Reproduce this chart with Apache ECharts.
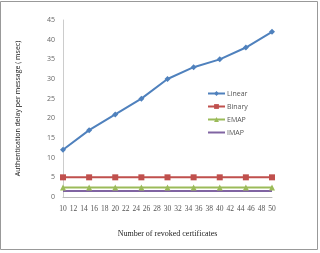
<!DOCTYPE html>
<html>
<head>
<meta charset="utf-8">
<script src="https://cdn.jsdelivr.net/npm/echarts@6/dist/echarts.min.js"></script>
<style>
  html, body { margin: 0; padding: 0; background: #fff; }
  #chartDiv { width: 320px; height: 253px; }
</style>
</head>
<body>
<div id="chartDiv"></div>
<script>
// revoked certificates (x) and delay per message in msec
const certs = [10, 15, 20, 25, 30, 35, 40, 45, 50];
const linear = [12, 17, 21, 25, 30, 33, 35, 38, 42];
const binary = [5, 5, 5, 5, 5, 5, 5, 5, 5];
const emap = [2.4, 2.4, 2.4, 2.4, 2.4, 2.4, 2.4, 2.4, 2.4];
const imap = [1.5, 1.5, 1.5, 1.5, 1.5, 1.5, 1.5, 1.5, 1.5];

const pairs = (vals) => certs.map((c, i) => [c, vals[i]]);

const chart = echarts.init(document.getElementById('chartDiv'));

const options = {
  animation: false,
  graphic: [
    {
      type: 'rect',
      shape: { x: 0.5, y: 1.5, width: 317, height: 248 },
      style: { fill: 'none', stroke: '#999', lineWidth: 1 }
    }
  ],
  grid: { left: 63, right: 48, top: 20, bottom: 56 },
  legend: {
    orient: 'vertical',
    left: 202,
    top: 85,
    itemWidth: 17,
    itemHeight: 6,
    itemGap: 6,
    textStyle: { fontFamily: 'Open Sans', fontSize: 7, color: '#555', padding: [0, 0, 0, -3] },
    data: ['Linear', 'Binary', 'EMAP', { name: 'IMAP', itemStyle: { opacity: 0 } }]
  },
  xAxis: {
    type: 'value',
    min: 10,
    max: 50,
    interval: 2,
    name: 'Number of revoked certificates',
    nameLocation: 'middle',
    nameGap: 33,
    nameTextStyle: { fontFamily: 'Liberation Serif', fontSize: 8, color: '#222' },
    axisLine: { lineStyle: { color: '#bbb' } },
    axisTick: { show: false },
    splitLine: { show: false },
    axisLabel: { margin: 8, fontFamily: 'Liberation Serif', fontSize: 7.5, color: '#555' }
  },
  yAxis: {
    type: 'value',
    min: 0,
    max: 45,
    interval: 5,
    name: 'Authentication delay per message ( msec)',
    nameLocation: 'middle',
    nameGap: 42,
    nameTextStyle: { fontFamily: 'Open Sans', fontSize: 7, color: '#111' },
    axisLine: { show: true, lineStyle: { color: '#ccc' } },
    axisTick: { show: false },
    splitLine: { show: false },
    axisLabel: { margin: 8, fontFamily: 'Open Sans', fontSize: 7, color: '#666' }
  },
  series: [
    {
      name: 'Linear', type: 'line', data: pairs(linear),
      color: '#4F81BD', symbol: 'diamond', symbolSize: 6,
      lineStyle: { width: 2 }
    },
    {
      name: 'Binary', type: 'line', data: pairs(binary),
      color: '#C0504D', symbol: 'rect', symbolSize: 6,
      lineStyle: { width: 2 }
    },
    {
      name: 'EMAP', type: 'line', data: pairs(emap),
      color: '#9BBB59', symbol: 'triangle', symbolSize: 6,
      lineStyle: { width: 2 }
    },
    {
      name: 'IMAP', type: 'line', data: pairs(imap),
      color: '#8064A2', symbol: 'none',
      lineStyle: { width: 2 }
    }
  ]
};

chart.setOption(options);
</script>
</body>
</html>
